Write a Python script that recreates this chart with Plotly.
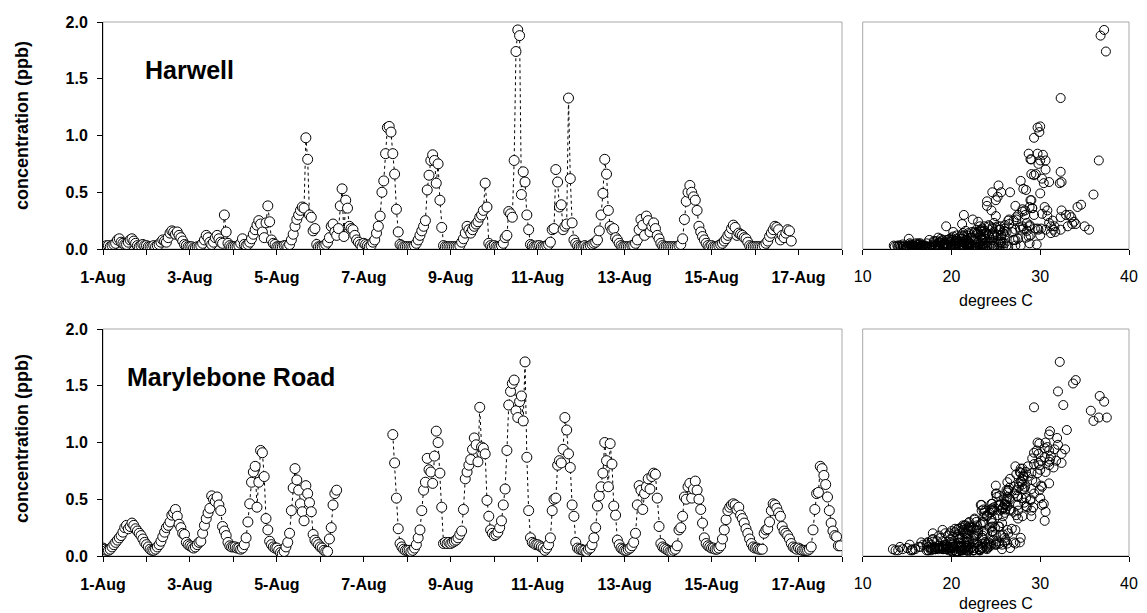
import plotly.graph_objects as go
import pandas as pd

N = None

# ---------------- data (hourly, one list per day, 00:00 .. 23:00) ----------------
day_labels = ["1-Aug", "", "3-Aug", "", "5-Aug", "", "7-Aug", "", "9-Aug", "",
              "11-Aug", "", "13-Aug", "", "15-Aug", "", "17-Aug", ""]

harwell_conc = [
    [0.02,0.02,0.03,0.03,0.02,0.03,0.04,0.05,0.08,0.09,0.06,0.05,0.04,0.04,0.06,0.08,0.09,0.07,0.05,0.03,0.02,0.03,0.04,0.03],
    [0.03,0.02,0.02,0.02,0.03,0.02,0.03,0.04,0.06,0.08,0.07,0.06,0.10,0.14,0.16,0.15,0.13,0.15,0.12,0.10,0.07,0.04,0.03,0.02],
    [0.02,0.02,0.01,0.01,0.02,0.02,0.03,0.05,0.08,0.12,0.10,0.06,0.04,0.06,0.10,0.12,0.09,0.06,0.05,0.30,0.15,0.05,0.03,0.02],
    [0.02,0.02,0.02,0.03,0.05,0.09,0.04,0.03,0.04,0.06,0.09,0.13,0.17,0.21,0.25,0.22,0.15,0.10,0.23,0.38,0.24,0.08,0.05,0.04],
    [0.02,0.02,0.02,0.02,0.03,0.03,0.02,0.04,0.08,0.13,0.20,0.26,0.30,0.34,0.37,0.36,0.98,0.79,0.30,0.28,0.16,0.18,0.04,0.02],
    [0.02,0.02,0.03,0.04,0.06,0.10,0.20,0.22,0.15,0.12,0.18,0.38,0.53,0.11,0.43,0.36,0.20,0.18,0.17,0.12,0.08,0.06,0.04,0.02],
    [0.05,0.04,0.03,0.02,0.03,0.06,0.08,0.14,0.20,0.29,0.50,0.60,0.84,1.07,1.08,1.03,0.84,0.66,0.35,0.15,0.04,0.03,0.02,0.02],
    [0.02,0.02,0.02,0.02,0.03,0.05,0.08,0.12,0.16,0.20,0.25,0.52,0.65,0.78,0.83,0.78,0.58,0.75,0.43,0.19,0.03,0.02,0.02,0.02],
    [0.02,0.02,0.02,0.02,0.02,0.03,0.06,0.09,0.14,0.20,0.17,0.14,0.17,0.20,0.22,0.24,0.28,0.30,0.34,0.58,0.37,0.05,0.03,0.02],
    [0.03,0.02,0.02,0.02,0.03,0.05,0.10,0.12,0.33,0.31,0.28,0.78,1.74,1.93,1.88,0.48,0.68,0.59,0.30,0.17,0.04,0.03,0.02,0.02],
    [0.03,0.03,0.02,0.02,0.02,0.03,0.04,0.06,0.17,0.18,0.70,0.59,0.37,0.39,0.17,0.20,0.22,1.33,0.62,0.23,0.08,0.05,0.03,0.02],
    [0.02,0.02,0.03,0.02,0.02,0.03,0.04,0.05,0.06,0.08,0.16,0.30,0.49,0.79,0.66,0.34,0.20,0.17,0.18,0.10,0.08,0.05,0.03,0.02],
    [0.02,0.02,0.02,0.02,0.03,0.03,0.05,0.08,0.17,0.26,0.21,0.12,0.29,0.25,0.15,0.20,0.23,0.18,0.12,0.09,0.05,0.03,0.02,0.02],
    [0.02,0.02,0.02,0.02,0.02,0.02,0.03,0.04,0.09,0.26,0.42,0.50,0.56,0.50,0.46,0.43,0.34,0.20,0.15,0.11,0.08,0.05,0.03,0.02],
    [0.03,0.02,0.02,0.02,0.03,0.04,0.05,0.07,0.09,0.12,0.14,0.18,0.21,0.19,0.12,0.14,0.13,0.12,0.10,0.09,0.06,0.03,0.02,0.02],
    [0.02,0.02,0.02,0.02,0.02,0.03,0.05,0.07,0.11,0.14,0.17,0.20,0.19,0.17,0.08,0.12,0.10,0.14,0.17,0.16,0.07,N,N,N],
    [N]*24,
]

harwell_temp = [
    [15.0,14.6,14.2,13.9,13.6,13.5,14.5,16.0,17.5,18.8,19.8,20.6,21.2,21.6,21.9,21.7,21.2,20.4,19.3,18.2,17.3,16.6,16.0,15.6],
    [15.2,14.9,14.6,14.3,14.1,14.0,14.8,16.4,18.0,19.5,20.6,21.5,22.3,22.9,23.3,23.4,23.0,22.3,21.2,20.0,18.9,17.9,17.0,16.3],
    [15.7,15.3,15.0,14.8,14.6,14.5,15.4,17.2,19.0,20.6,21.8,22.8,23.5,24.0,24.3,24.2,23.8,23.0,22.0,21.4,20.2,18.8,17.8,17.0],
    [16.4,16.0,15.7,15.5,15.3,15.2,16.3,18.2,20.2,22.0,23.5,24.6,25.4,26.0,26.4,26.5,26.2,25.6,24.8,24.0,23.0,21.6,20.4,19.4],
    [18.6,18.0,17.5,17.1,16.8,16.6,17.6,19.6,21.7,23.6,25.2,26.5,27.5,28.3,28.8,29.1,29.3,29.0,28.3,27.3,26.0,24.6,23.2,22.0],
    [21.0,20.2,19.6,19.1,18.7,18.5,19.4,21.2,23.0,24.6,26.0,27.2,28.1,28.7,29.0,29.1,28.8,28.1,27.2,26.0,24.6,23.3,22.2,21.3],
    [20.5,19.9,19.4,19.0,18.7,18.6,19.5,21.3,23.2,25.0,26.6,27.8,28.7,29.7,30.0,29.9,29.7,29.0,28.0,26.8,25.4,24.0,22.8,21.8],
    [21.0,20.4,19.9,19.5,19.2,19.1,20.0,21.8,23.7,25.5,27.0,28.4,29.3,30.0,30.3,30.6,30.4,29.8,28.9,27.7,26.2,24.8,23.6,22.6],
    [22.0,21.4,20.9,20.5,20.2,20.0,21.2,23.4,25.8,28.0,29.8,31.2,32.3,33.1,33.6,33.8,33.5,32.9,32.4,32.2,30.5,28.8,27.2,25.8],
    [24.6,23.8,23.2,22.7,22.3,22.1,23.4,25.6,28.0,30.2,32.3,36.6,37.4,37.2,36.8,36.0,32.3,32.4,33.3,31.5,29.6,27.8,26.4,25.2],
    [24.2,23.5,22.9,22.4,22.0,21.8,23.0,25.3,27.8,29.4,30.6,31.0,34.2,34.6,35.5,35.0,34.0,32.3,30.2,28.5,27.0,25.8,24.8,24.0],
    [22.8,22.2,21.7,21.3,21.0,20.8,21.8,23.6,25.5,27.2,28.5,29.3,30.0,28.9,29.5,30.8,31.2,30.6,29.7,28.4,27.0,25.6,24.4,23.4],
    [22.4,21.8,21.3,20.9,20.6,20.4,21.5,23.5,25.5,27.3,28.8,30.0,30.8,31.4,31.7,31.6,31.0,30.1,28.9,27.5,26.0,24.7,23.6,22.8],
    [17.5,17.0,16.6,16.3,16.0,15.9,16.8,18.6,20.5,22.4,24.0,24.6,25.3,25.6,25.2,25.0,24.5,23.7,22.6,21.4,20.2,19.2,18.4,17.7],
    [17.0,16.5,16.1,15.8,15.5,15.4,16.3,18.0,19.8,21.4,22.6,23.5,24.2,24.6,24.8,24.6,24.1,23.3,22.2,21.0,19.9,19.0,18.2,17.6],
    [17.1,16.6,16.2,15.9,15.6,15.5,16.5,18.3,20.2,21.9,23.3,24.3,25.0,25.4,25.5,25.2,24.7,23.9,22.8,21.6,20.5,N,N,N],
    [N]*24,
]

maryle_conc = [
    [0.07,0.06,0.05,0.05,0.06,0.08,0.10,0.12,0.14,0.16,0.18,0.21,0.25,0.27,0.24,0.26,0.29,0.27,0.24,0.22,0.20,0.18,0.15,0.12],
    [0.10,0.08,0.06,0.05,0.05,0.06,0.08,0.10,0.13,0.17,0.21,0.25,0.27,0.30,0.36,0.38,0.41,0.35,0.28,0.25,0.20,0.19,0.12,0.10],
    [0.09,0.08,0.07,0.08,0.10,0.12,0.13,0.20,0.27,0.33,0.38,0.42,0.53,0.50,0.48,0.52,0.45,0.40,0.26,0.22,0.18,0.12,0.09,0.08],
    [0.08,0.08,0.07,0.07,0.06,0.07,0.10,0.16,0.30,0.46,0.65,0.74,0.79,0.43,0.65,0.93,0.91,0.70,0.33,0.23,0.13,0.10,0.08,0.07],
    [0.07,0.05,0.03,0.02,0.04,0.08,0.12,0.20,0.40,0.60,0.77,0.67,0.58,0.46,0.39,0.31,0.62,0.55,0.47,0.39,0.19,0.14,0.12,0.10],
    [0.08,0.07,0.05,0.04,0.04,0.15,0.25,0.45,0.55,0.58,N,N,N,N,N,N,N,N,N,N,N,N,N,N],
    [N,N,N,N,N,N,N,N,N,N,N,N,N,N,N,N,1.07,0.82,0.51,0.24,0.11,0.08,0.06,0.05],
    [0.05,0.05,0.04,0.05,0.07,0.10,0.16,0.23,0.40,0.58,0.65,0.86,0.76,0.74,0.64,0.88,1.10,1.00,0.73,0.43,0.11,0.12,0.11,0.12],
    [0.11,0.12,0.13,0.14,0.16,0.19,0.22,0.41,0.68,0.74,0.80,0.85,0.94,1.04,0.98,0.83,1.31,0.96,0.95,0.90,0.49,0.35,0.23,0.20],
    [0.18,0.19,0.21,0.25,0.31,0.45,0.59,0.93,1.33,1.45,1.52,1.55,1.28,1.22,1.36,1.41,1.19,1.71,0.87,0.40,0.16,0.12,0.11,0.10],
    [0.10,0.09,0.08,0.07,0.05,0.07,0.10,0.16,0.40,0.50,0.51,0.80,0.84,0.82,0.94,1.22,1.11,0.90,0.78,0.45,0.35,0.12,0.07,0.06],
    [0.06,0.05,0.05,0.04,0.06,0.07,0.10,0.16,0.25,0.44,0.53,0.61,0.73,1.00,0.84,0.61,0.99,0.81,0.44,0.36,0.14,0.10,0.07,0.06],
    [0.05,0.05,0.06,0.07,0.09,0.12,0.20,0.45,0.62,0.58,0.41,0.55,0.61,0.68,0.59,0.70,0.73,0.72,0.51,0.26,0.11,0.08,0.07,0.06],
    [0.05,0.04,0.04,0.05,0.06,0.09,0.23,0.25,0.35,0.52,0.50,0.61,0.64,0.51,0.59,0.66,0.58,0.50,0.41,0.29,0.16,0.11,0.09,0.08],
    [0.07,0.07,0.06,0.06,0.07,0.09,0.15,0.23,0.32,0.40,0.43,0.45,0.46,0.45,0.41,0.43,0.36,0.33,0.29,0.24,0.20,0.15,0.11,0.08],
    [0.07,0.07,0.06,0.06,0.06,0.20,0.23,0.24,0.30,0.40,0.46,0.45,0.42,0.38,0.35,0.26,0.22,0.20,0.18,0.15,0.11,0.08,0.07,0.06],
    [0.07,0.06,0.05,0.05,0.05,0.05,0.06,0.08,0.23,0.41,0.55,0.56,0.79,0.77,0.71,0.63,0.52,0.40,0.29,0.22,0.18,0.17,0.09,0.09],
]

maryle_temp = [
    [15.0,14.5,14.0,13.7,13.4,14.2,15.3,16.6,17.8,18.8,19.6,20.4,21.1,21.6,21.9,22.0,21.9,21.5,20.8,20.0,19.3,18.6,17.9,17.3],
    [16.8,16.3,15.9,15.6,15.4,15.6,16.5,17.7,19.0,20.2,21.3,22.2,22.9,23.5,24.0,24.3,24.4,24.0,23.3,22.4,21.5,20.7,19.9,19.2],
    [18.6,18.1,17.7,17.4,17.2,17.4,18.4,19.8,21.3,22.6,23.7,24.6,25.4,25.9,26.2,26.3,26.0,25.4,24.6,23.6,22.6,21.7,20.9,20.2],
    [19.6,19.1,18.7,18.4,18.2,18.4,19.5,21.0,22.8,24.6,26.3,27.7,28.6,29.2,29.5,29.6,29.3,28.6,27.5,26.3,25.1,24.0,23.0,22.2],
    [21.5,21.0,20.6,20.3,20.1,20.3,21.4,23.0,24.8,26.5,28.0,29.1,29.9,30.4,30.6,30.5,30.1,29.3,28.2,27.0,25.8,24.7,23.8,23.0],
    [22.3,21.7,21.2,20.8,20.5,20.7,21.8,23.4,25.0,26.4,N,N,N,N,N,N,N,N,N,N,N,N,N,N],
    [N,N,N,N,N,N,N,N,N,N,N,N,N,N,N,N,31.0,29.8,28.4,26.8,25.4,24.2,23.2,22.4],
    [21.7,21.1,20.6,20.2,19.9,20.1,21.2,22.8,24.6,26.4,27.9,29.1,30.0,30.6,31.0,31.2,31.1,30.6,29.7,28.5,27.2,26.0,25.0,24.2],
    [23.5,22.9,22.4,22.0,21.7,21.9,23.0,24.7,26.6,28.4,29.9,31.1,31.6,31.9,32.0,31.0,29.3,30.8,30.5,29.8,28.9,28.0,27.2,26.4],
    [25.6,25.0,24.6,24.3,24.5,27.5,29.0,31.0,32.6,32.0,33.7,34.0,35.7,37.5,37.2,36.7,36.0,32.2,30.5,29.0,27.8,27.0,26.3,25.7],
    [25.0,24.4,23.9,23.5,23.2,23.4,24.5,26.0,27.5,28.9,30.0,31.0,31.8,32.4,32.8,36.6,33.0,32.4,31.5,30.2,29.0,27.7,26.6,25.7],
    [24.0,23.2,22.5,21.9,21.4,21.2,22.0,23.4,24.9,26.3,27.4,28.3,29.0,29.7,30.1,30.2,29.9,29.3,28.4,27.3,26.1,25.0,24.0,23.2],
    [22.5,21.9,21.4,21.0,20.7,20.8,21.8,23.3,25.0,26.2,26.6,27.1,27.6,28.0,28.2,28.1,27.8,27.3,26.5,25.4,24.3,23.4,22.6,21.9],
    [21.2,20.6,20.1,19.7,19.4,19.5,20.6,22.1,23.7,25.1,26.2,27.0,27.6,27.9,28.0,27.8,27.3,26.6,25.7,24.6,23.5,22.5,21.7,21.0],
    [20.3,19.8,19.4,19.0,18.8,18.9,19.9,21.2,22.6,23.8,24.8,25.5,26.0,26.2,26.1,25.8,25.2,24.5,23.6,22.6,21.7,20.9,20.2,19.6],
    [19.0,18.6,18.2,17.9,17.7,17.9,19.0,20.4,22.0,23.4,24.5,25.3,25.8,26.0,25.8,25.3,24.6,23.8,22.8,21.8,20.9,20.2,19.6,19.1],
    [18.6,18.1,17.7,17.4,17.2,17.4,18.5,20.1,21.9,23.6,25.1,26.3,27.2,27.8,28.1,28.0,27.5,26.7,25.7,24.6,23.5,22.6,21.8,21.1],
]

site_names = ["Harwell", "Marylebone Road"]
y_title = "concentration (ppb)"
x_title = "degrees C"

# ---------------- build ----------------
def flat(days):
    return [v for d in days for v in d]

times = pd.date_range("2003-08-01", periods=17 * 24, freq="h")
day_ticks = pd.date_range("2003-08-01", periods=18, freq="D")

W, H = 1147, 613
def px_x(p): return p / W
def px_y(p): return 1 - p / H

FONT = "Liberation Sans, Arial, sans-serif"
GREY = "#a8a8a8"

fig = go.Figure()

series = [(harwell_conc, harwell_temp), (maryle_conc, maryle_temp)]
for i, (conc, temp) in enumerate(series):
    xa_t = "x" if i == 0 else "x3"
    ya_t = "y" if i == 0 else "y3"
    xa_s = "x2" if i == 0 else "x4"
    ya_s = "y2" if i == 0 else "y4"
    c = flat(conc)
    t = flat(temp)
    fig.add_trace(go.Scatter(
        x=times, y=c, xaxis=xa_t, yaxis=ya_t, mode="lines+markers",
        connectgaps=False,
        line=dict(color="black", width=1, dash="dot"),
        marker=dict(symbol="circle", size=10, color="white",
                    line=dict(color="black", width=1)),
        showlegend=False, hoverinfo="skip"))
    pts = [(a, b) for a, b in zip(t, c) if a is not None and b is not None]
    fig.add_trace(go.Scatter(
        x=[p[0] for p in pts], y=[p[1] for p in pts], xaxis=xa_s, yaxis=ya_s,
        mode="markers",
        marker=dict(symbol="circle-open", size=9, color="black",
                    line=dict(color="black", width=1)),
        showlegend=False, hoverinfo="skip"))

top_dom = [px_y(249), px_y(22)]
bot_dom = [px_y(556), px_y(329)]
ts_dom = [px_x(103), px_x(842)]
sc_dom = [px_x(862.7), px_x(1129)]

def time_axis(anchor):
    return dict(domain=ts_dom, anchor=anchor, type="date", automargin=False,
                range=[day_ticks[0], day_ticks[-1]],
                tickvals=list(day_ticks), ticktext=day_labels,
                ticks="outside", ticklen=5, tickcolor="black", tickwidth=1,
                showline=True, linecolor="black", linewidth=1,
                showgrid=False, zeroline=False,
                tickfont=dict(family=FONT, size=16, color="black", weight="bold"),
                ticklabelstandoff=9)

def conc_axis(anchor, dom):
    return dict(domain=dom, anchor=anchor, range=[0, 2], tickvals=[0, 0.5, 1.0, 1.5, 2.0],
                automargin=False,
                tickformat=".1f", ticks="outside", ticklen=5, tickcolor="black",
                showline=True, linecolor="black", linewidth=1,
                showgrid=False, zeroline=False,
                tickfont=dict(family=FONT, size=16, color="black", weight="bold"),
                ticklabelstandoff=6)

def temp_axis(anchor):
    return dict(domain=sc_dom, anchor=anchor, range=[10, 40], tickvals=[10, 20, 30, 40],
                automargin=False,
                ticks="outside", ticklen=5, tickcolor="black",
                showline=True, linecolor="black", linewidth=1,
                showgrid=False, zeroline=False,
                tickfont=dict(family=FONT, size=16, color="black"),
                ticklabelstandoff=8)

def sc_y_axis(anchor, dom):
    return dict(domain=dom, anchor=anchor, range=[0, 2], showticklabels=False,
                automargin=False,
                ticks="", showline=False, showgrid=False, zeroline=False)

fig.update_layout(
    template="none",
    width=W, height=H, autosize=False,
    margin=dict(l=0, r=0, t=0, b=0, pad=0),
    paper_bgcolor="white", plot_bgcolor="white",
    xaxis=time_axis("y"), yaxis=conc_axis("x", top_dom),
    xaxis2=temp_axis("y2"), yaxis2=sc_y_axis("x2", top_dom),
    xaxis3=time_axis("y3"), yaxis3=conc_axis("x3", bot_dom),
    xaxis4=temp_axis("y4"), yaxis4=sc_y_axis("x4", bot_dom),
)

# grey plot-area frames
for xr, yr in [("x", "y"), ("x2", "y2"), ("x3", "y3"), ("x4", "y4")]:
    fig.add_shape(type="rect", xref=f"{xr} domain", yref=f"{yr} domain",
                  x0=0, x1=1, y0=0, y1=1, line=dict(color=GREY, width=1),
                  fillcolor="rgba(0,0,0,0)", layer="below")

ann = []
ann.append(dict(text=site_names[0], x=px_x(143), y=px_y(70), xref="paper", yref="paper",
                xanchor="left", yanchor="middle", showarrow=False,
                font=dict(family=FONT, size=25, color="black", weight="bold")))
ann.append(dict(text=site_names[1], x=px_x(125), y=px_y(377), xref="paper", yref="paper",
                xanchor="left", yanchor="middle", showarrow=False,
                font=dict(family=FONT, size=25, color="black", weight="bold")))
for yc in (126, 439):
    ann.append(dict(text=y_title, x=px_x(22), y=px_y(yc), xref="paper", yref="paper",
                    xanchor="center", yanchor="middle", textangle=-90, showarrow=False,
                    font=dict(family=FONT, size=18, color="black", weight="bold")))
for yc in (300, 603):
    ann.append(dict(text=x_title, x=px_x(996), y=px_y(yc), xref="paper", yref="paper",
                    xanchor="center", yanchor="middle", showarrow=False,
                    font=dict(family=FONT, size=16, color="black")))
fig.update_layout(annotations=ann)

fig.write_html("out.html",
               config={"displayModeBar": False, "staticPlot": True},
               post_script="document.body.style.margin='0';document.body.style.padding='0';"
                           "document.body.style.overflow='hidden';")
